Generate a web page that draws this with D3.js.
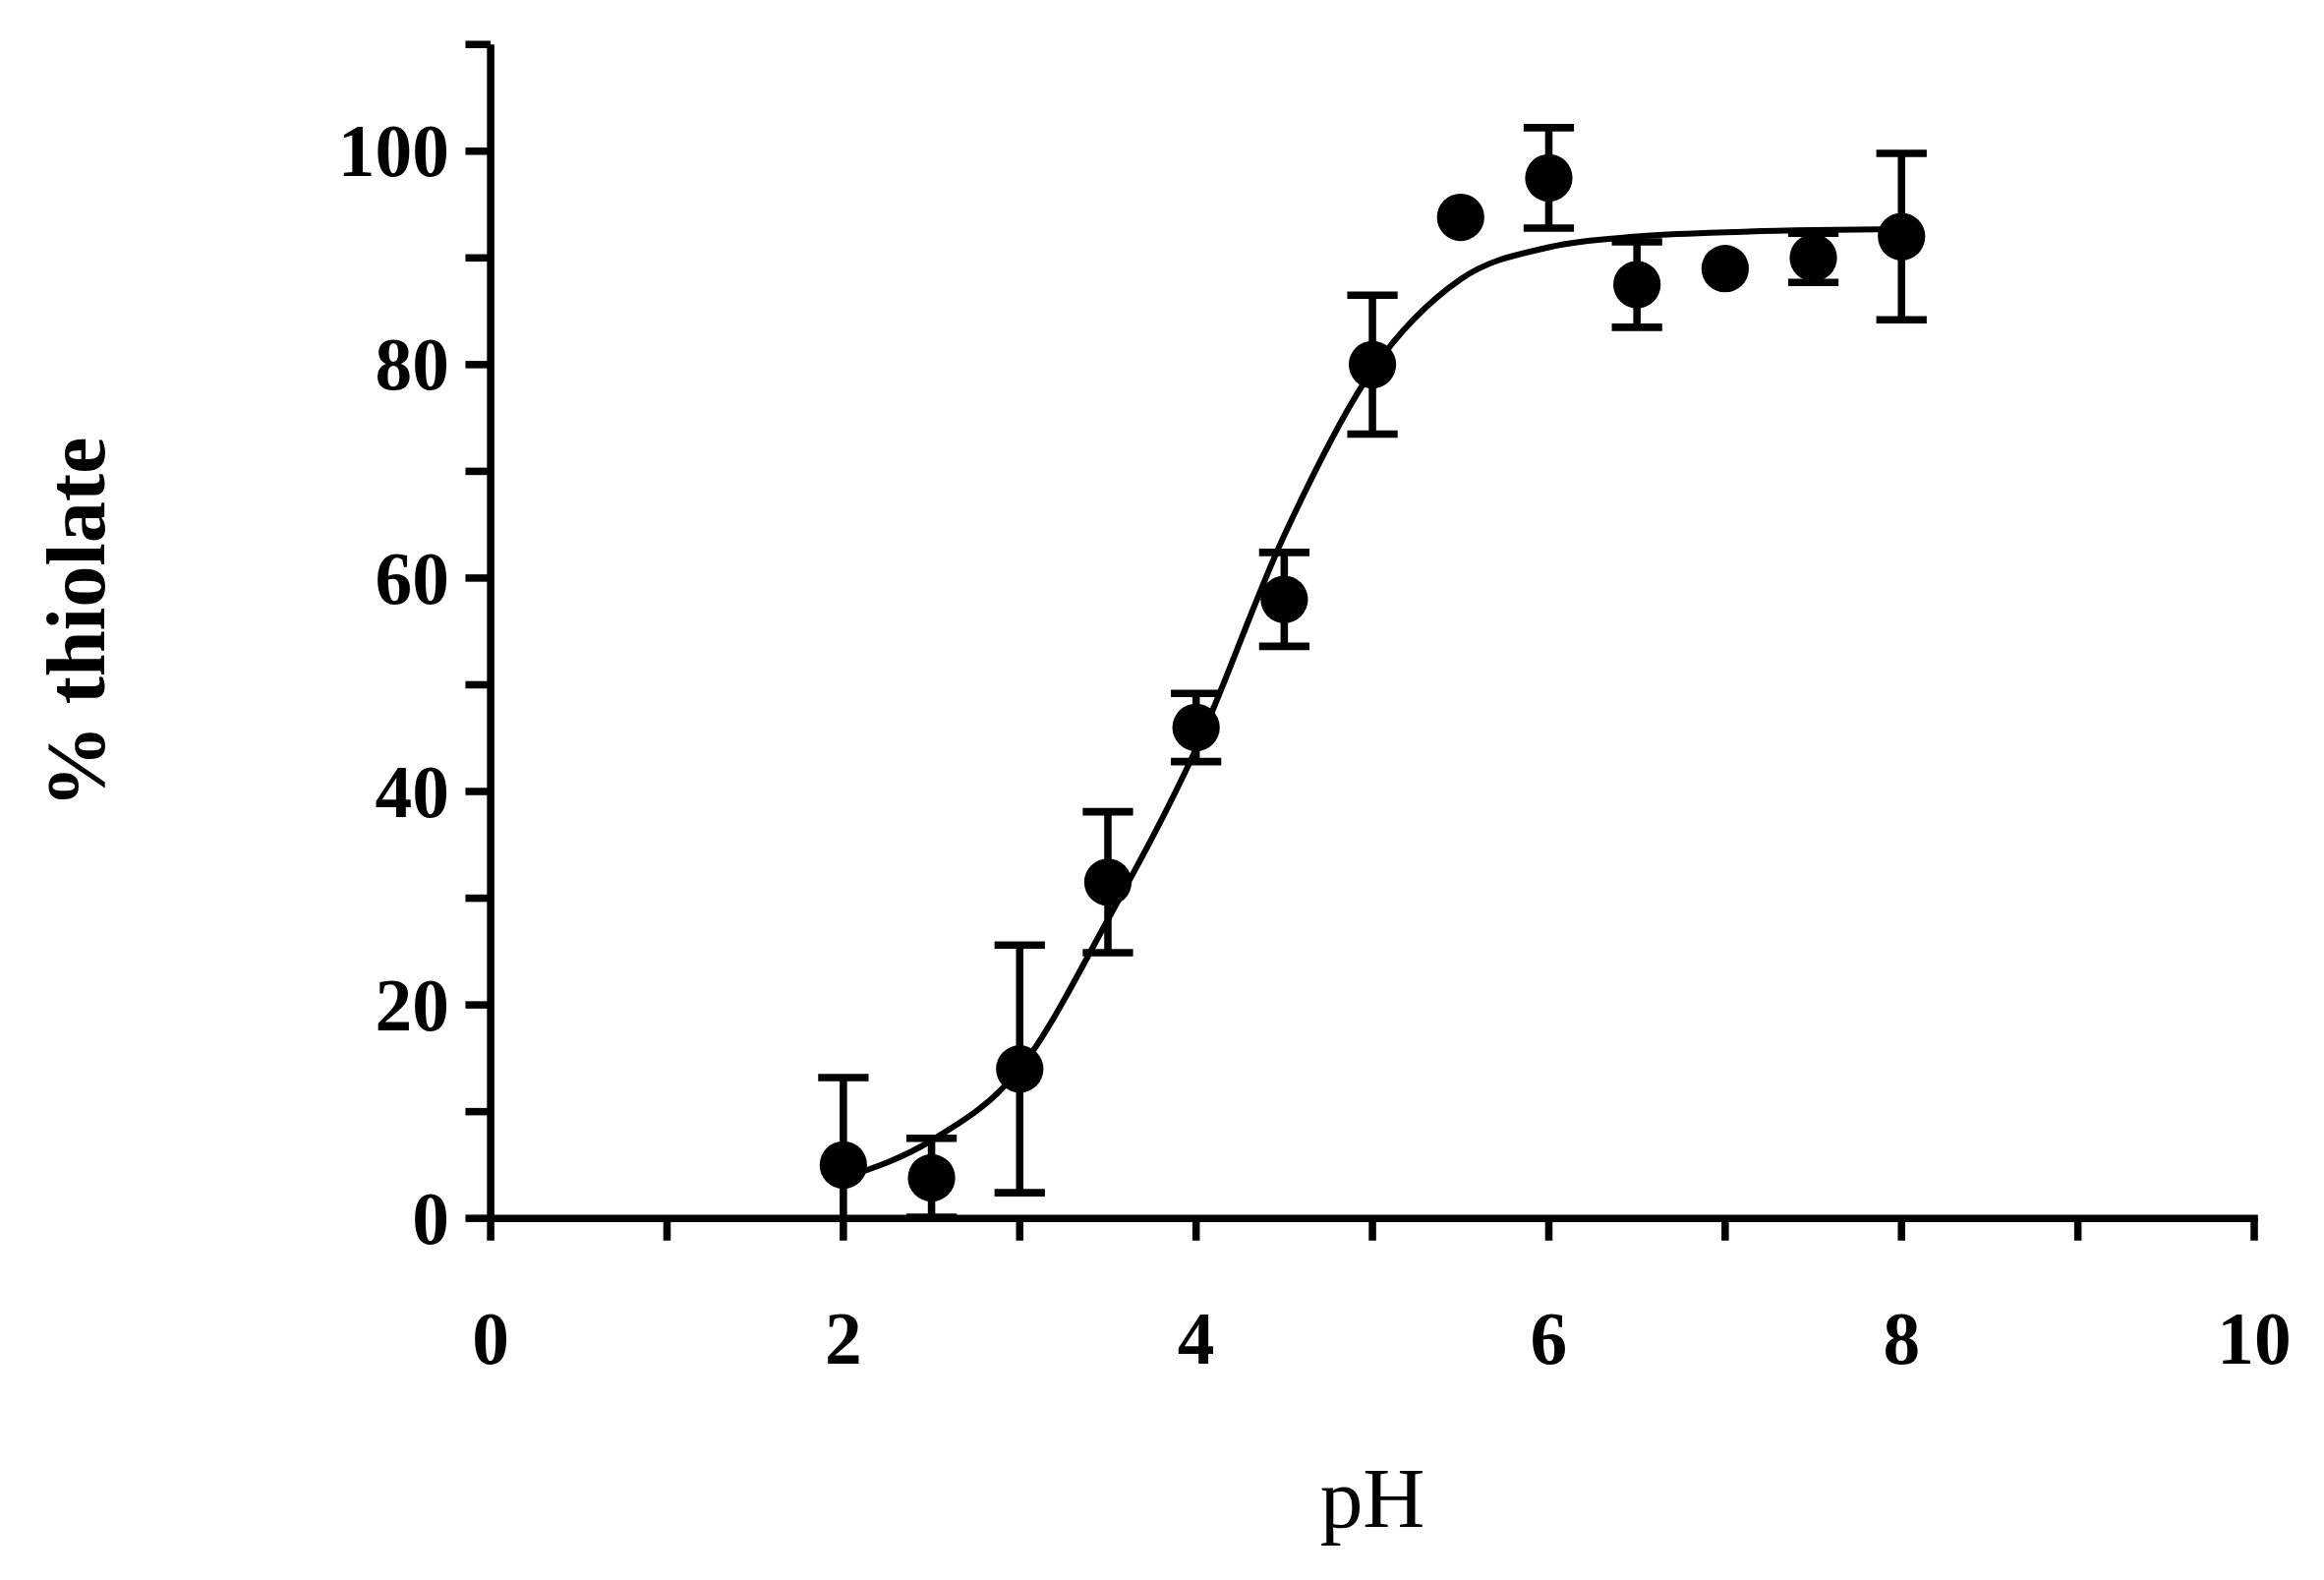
<!DOCTYPE html>
<html>
<head>
<script src="https://d3js.org/d3.v7.min.js"></script>
<style>body{margin:0;background:#fff}</style>
</head>
<body>
<div id="chart"></div>
<script>
// measured points
const ph = [2, 2.5, 3, 3.5, 4, 4.5, 5, 5.5, 6, 6.5, 7, 7.5, 8];
const thiolate = [5, 3.8, 14, 31.5, 46, 58, 80, 93.8, 97.5, 87.5, 89, 90, 92];
const err = [8.2, 3.7, 11.6, 6.6, 3.2, 4.4, 6.5, 0, 4.7, 4, 0, 2.3, 7.8];
// fitted curve
const fitPh = [2, 2.5, 3, 3.5, 4, 4.5, 5, 5.5, 6, 6.5, 7, 7.5, 8];
const fitVal = [3.8, 7.3, 14, 28, 44, 64, 79.5, 88, 91, 92, 92.4, 92.6, 92.7];
const xTicks = [0, 2, 4, 6, 8, 10];
const yTicks = [0, 20, 40, 60, 80, 100];

const svg = d3.select('#chart').append('svg')
    .attr('width', 2364).attr('height', 1607)
    .attr('viewBox', '0 0 1568 1066');

const x = d3.scaleLinear().domain([0, 10]).range([331, 1521]);
const y = d3.scaleLinear().domain([0, 110]).range([822, 30]);
const font = "'Liberation Serif', 'DejaVu Serif', serif";

// axes
svg.append('line').attr('x1', x(0)).attr('x2', x(0)).attr('y1', y(110)).attr('y2', y(0) + 2.5)
    .attr('stroke', '#000').attr('stroke-width', 5);
svg.append('line').attr('x1', x(0)).attr('x2', x(10) + 2.5).attr('y1', y(0)).attr('y2', y(0))
    .attr('stroke', '#000').attr('stroke-width', 5);

svg.selectAll('.yt').data(d3.range(0, 111, 10)).join('line')
    .attr('x1', x(0) - 17).attr('x2', x(0)).attr('y1', d => y(d)).attr('y2', d => y(d))
    .attr('stroke', '#000').attr('stroke-width', 5);
svg.selectAll('.xt').data(d3.range(0, 11, 1)).join('line')
    .attr('x1', d => x(d)).attr('x2', d => x(d)).attr('y1', y(0)).attr('y2', y(0) + 15)
    .attr('stroke', '#000').attr('stroke-width', 5);

svg.selectAll('.yl').data(yTicks).join('text')
    .attr('x', x(0) - 28).attr('y', d => y(d) + 17)
    .attr('text-anchor', 'end').attr('font-family', font).attr('font-weight', 'bold')
    .attr('font-size', 50).text(d => d);
svg.selectAll('.xl').data(xTicks).join('text')
    .attr('x', d => x(d)).attr('y', 920)
    .attr('text-anchor', 'middle').attr('font-family', font).attr('font-weight', 'bold')
    .attr('font-size', 50).text(d => d);

svg.append('text').attr('transform', 'translate(70,420) rotate(-90)')
    .attr('text-anchor', 'middle').attr('font-family', font).attr('font-weight', 'bold')
    .attr('font-size', 56).text('% thiolate');
svg.append('text').attr('x', 926).attr('y', 1030)
    .attr('text-anchor', 'middle').attr('font-family', font)
    .attr('font-size', 58).text('pH');

// fit curve
const line = d3.line().x((d, i) => x(fitPh[i])).y(d => y(d)).curve(d3.curveMonotoneX);
svg.append('path').attr('d', line(fitVal)).attr('fill', 'none')
    .attr('stroke', '#000').attr('stroke-width', 4);

// error bars
const pts = ph.map((p, i) => ({p, v: thiolate[i], e: err[i]})).filter(d => d.e > 0);
const eb = svg.append('g').attr('stroke', '#000').attr('stroke-width', 5);
pts.forEach(d => {
    const top = y(d.v + d.e), bot = Math.min(y(d.v - d.e), y(0));
    eb.append('line').attr('x1', x(d.p)).attr('x2', x(d.p)).attr('y1', top).attr('y2', bot);
    eb.append('line').attr('x1', x(d.p) - 17).attr('x2', x(d.p) + 17).attr('y1', top).attr('y2', top);
    if (d.v - d.e > 0)
        eb.append('line').attr('x1', x(d.p) - 17).attr('x2', x(d.p) + 17).attr('y1', bot).attr('y2', bot);
});

svg.selectAll('.pt').data(ph).join('circle')
    .attr('cx', d => x(d)).attr('cy', (d, i) => y(thiolate[i])).attr('r', 16).attr('fill', '#000');
</script>
</body>
</html>
